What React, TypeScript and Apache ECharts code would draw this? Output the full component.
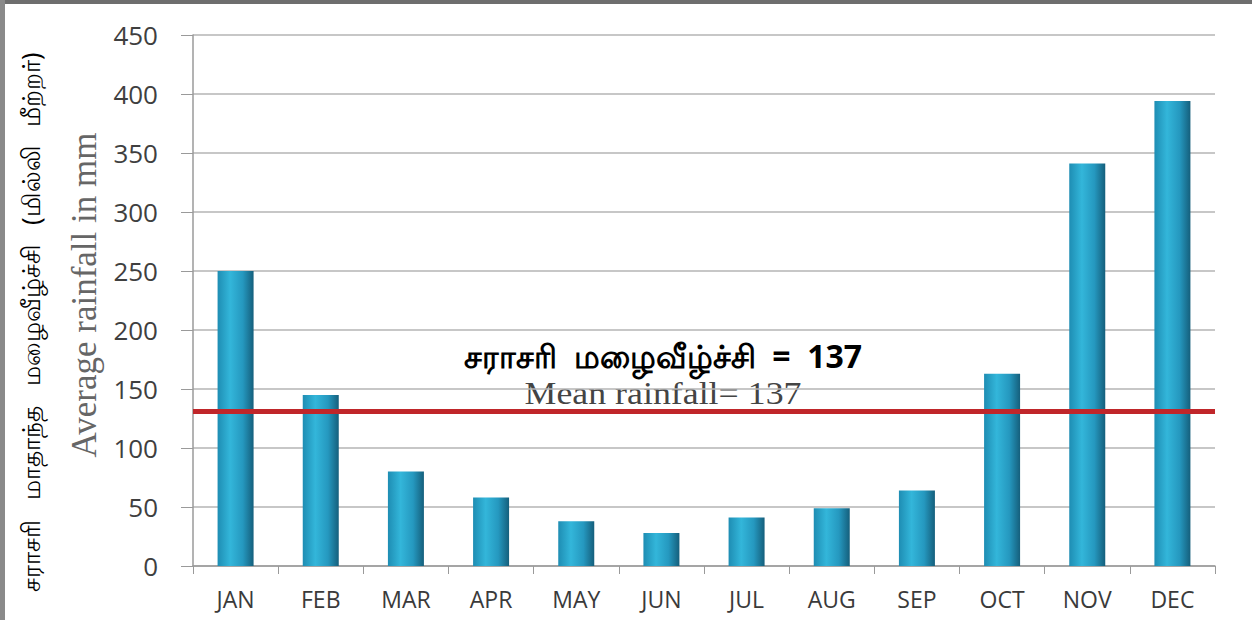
import React, { useEffect, useRef } from "react";
import * as echarts from "echarts";

const months = ["JAN", "FEB", "MAR", "APR", "MAY", "JUN", "JUL", "AUG", "SEP", "OCT", "NOV", "DEC"];
const rainfall = [250, 145, 80, 58, 38, 28, 41, 49, 64, 163, 341, 394];
const meanLineValue = 131;
const yTicks = { min: 0, max: 450, interval: 50 };
const tamilTitle = "சராசரி  மழைவீழ்ச்சி  =  137";
const englishTitle = "Mean rainfall= 137";
const tamilAxis = "சராசரி   மாதாந்த   மழைவீழ்ச்சி   (மில்லி   மீற்றர்)";
const englishAxis = "Average rainfall in mm";

export default function App() {
  const ref = useRef<HTMLDivElement>(null);
  useEffect(() => {
    if (!ref.current) return;
    const chart = echarts.init(ref.current, null, { renderer: "svg" });
    chart.setOption({
      animation: false,
      backgroundColor: "#ffffff",
      grid: { left: 193, right: 45, top: 35, bottom: 73 },
      xAxis: {
        type: "category",
        data: months,
        axisLine: { lineStyle: { color: "#9a9a9a", width: 1.5 } },
        axisTick: { show: true, length: 8, lineStyle: { color: "#9a9a9a" } },
        axisLabel: { color: "#3a3a3a", fontSize: 23, fontFamily: "Open Sans, sans-serif", margin: 21 },
      },
      yAxis: {
        type: "value",
        min: yTicks.min,
        max: yTicks.max,
        interval: yTicks.interval,
        axisLine: { show: true, lineStyle: { color: "#9a9a9a", width: 1.5 } },
        axisTick: { show: true, length: 12, lineStyle: { color: "#9a9a9a" } },
        splitLine: { lineStyle: { color: "#b5b5b5", width: 1.5 } },
        axisLabel: { color: "#3f3f3f", fontSize: 26, fontFamily: "Open Sans, sans-serif", margin: 35 },
      },
      series: [
        {
          type: "bar",
          data: rainfall,
          barWidth: 36,
          itemStyle: {
            color: new echarts.graphic.LinearGradient(0, 0, 1, 0, [
              { offset: 0, color: "#1e8db3" },
              { offset: 0.35, color: "#33b6da" },
              { offset: 0.7, color: "#2598bf" },
              { offset: 1, color: "#155f7c" },
            ]),
          },
          markLine: {
            symbol: "none",
            silent: true,
            label: { show: false },
            lineStyle: { color: "#c0262a", width: 5, type: "solid" },
            data: [{ yAxis: meanLineValue }],
          },
        },
      ],
      graphic: [
        { type: "rect", shape: { x: 0, y: 0, width: 1252, height: 4 }, style: { fill: "#6e6e6e" } },
        { type: "rect", shape: { x: 0, y: 0, width: 5, height: 620 }, style: { fill: "#8a8a8a" } },
        {
          type: "text",
          x: 663,
          y: 355,
          style: {
            text: tamilTitle,
            fill: "#000",
            font: "bold 32px 'Noto Sans', sans-serif",
            align: "center",
            verticalAlign: "middle",
          },
        },
        {
          type: "text",
          x: 663,
          y: 393,
          scaleX: 1.12,
          style: {
            text: englishTitle,
            fill: "#444",
            font: "32px 'Liberation Serif', serif",
            align: "center",
            verticalAlign: "middle",
          },
        },
        {
          type: "text",
          x: 84,
          y: 295,
          rotation: Math.PI / 2,
          style: {
            text: englishAxis,
            fill: "#666",
            font: "35px 'Liberation Serif', serif",
            align: "center",
            verticalAlign: "middle",
          },
        },
        {
          type: "text",
          x: 30,
          y: 322,
          rotation: Math.PI / 2,
          style: {
            text: tamilAxis,
            fill: "#000",
            font: "25px 'Noto Sans', sans-serif",
            align: "center",
            verticalAlign: "middle",
          },
        },
      ],
    });
    return () => chart.dispose();
  }, []);
  return (
    <div
      ref={ref}
      style={{ position: "fixed", left: 0, top: 0, width: 1260, height: 639 }}
    />
  );
}
